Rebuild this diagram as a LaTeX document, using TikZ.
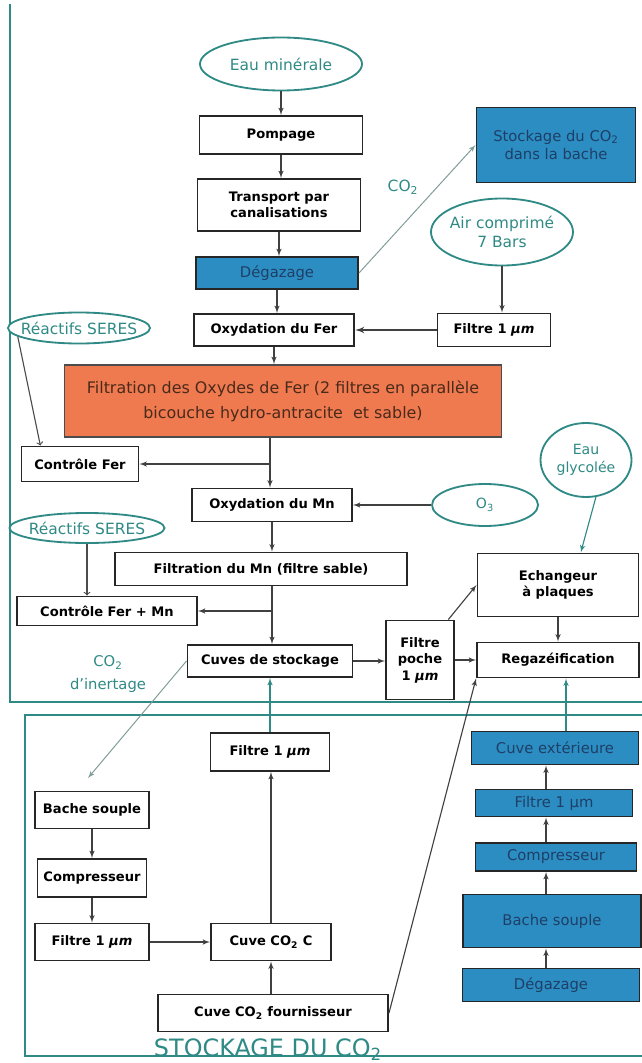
\documentclass[tikz,border=0pt]{standalone}
\usepackage{fontspec}
\setmainfont{DejaVu Sans}
\usetikzlibrary{arrows}
\usetikzlibrary{shapes.geometric}
\usetikzlibrary{calc}

\definecolor{sarcelle}{HTML}{2F8A85}
\definecolor{gristeal}{HTML}{7E9C98}
\definecolor{bleu}{HTML}{2C8DC3}
\definecolor{marine}{HTML}{1E3F66}
\definecolor{corail}{HTML}{EF7A50}
\definecolor{brun}{HTML}{4A2A1A}

\begin{document}
\begin{tikzpicture}[x=0.025cm,y=-0.025cm,>=latex',
  sz/.style 2 args={minimum width=#1*0.025cm,minimum height=#2*0.025cm},
  box/.style={draw=black!85,line width=1.4pt,fill=white,inner sep=1pt,align=center,font=\fontsize{9.3}{11.8}\selectfont\bfseries},
  bleubox/.style={box,fill=bleu,text=marine,font=\fontsize{10.5}{13}\selectfont},
  oval/.style={ellipse,draw=sarcelle,line width=1.3pt,fill=white,inner sep=0pt,align=center,text=sarcelle,font=\fontsize{11}{14}\selectfont},
  lbl/.style={text=sarcelle,align=center,font=\fontsize{10.5}{16}\selectfont},
  fl/.style={->,draw=black!75,line width=.8pt},
  tfl/.style={->,draw=sarcelle,line width=.8pt},
  ouvert/.style={-to,draw=black!70,line width=.8pt}]
\useasboundingbox (0,0) rectangle (641,1063);
\draw [sarcelle,line width=1.4pt] (10,4) -- (10,702) -- (645,702);
\draw [sarcelle,line width=1.4pt] (645,715) -- (25,715) -- (25,1056) -- (645,1056);

\draw node [oval,sz={162}{53}] (eau) at (281,64) {Eau minérale};
\draw node [box,sz={163}{38}] (pomp) at (281,135) {Pompage};
\draw node [box,sz={163}{52}] (transp) at (279,205) {Transport par\\canalisations};
\draw node [bleubox,sz={162}{32}] (degaz) at (277,273) {Dégazage};
\draw node [bleubox,sz={159}{75}] (stock) at (556,145) {Stockage du CO\textsubscript{2}\\dans la bache};
\draw node [lbl,font=\fontsize{11}{14}\selectfont] (co2) at (403,187) {CO\textsubscript{2}};
\draw node [oval,inner xsep=-2pt,sz={142}{67}] (air) at (502,232) {Air comprimé\\7 Bars};
\draw node [box,sz={113}{33}] (filt) at (494,330) {Filtre 1 \textit{µm}};
\draw node [box,sz={160}{32}] (oxfer) at (274,330) {Oxydation du Fer};
\draw node [oval,inner xsep=-9pt,sz={142}{31}] (reac1) at (79,328) {Réactifs SERES};
\draw node [box,fill=corail,draw=black!70,sz={437}{72},text=brun,font=\fontsize{11.3}{18}\selectfont] (oxydes) at (283,401)
  {Filtration des Oxydes de Fer (2 filtres en parallèle\\bicouche hydro-antracite \ et sable)};
\draw node [box,sz={117}{35}] (ctrlfer) at (80,464) {Contrôle Fer};
\draw node [box,sz={160}{33}] (oxmn) at (272,505) {Oxydation du Mn};
\draw node [oval,sz={106}{42},font=\fontsize{10}{12}\selectfont] (o3) at (485,505) {O\textsubscript{3}};
\draw node [oval,sz={91}{74},font=\fontsize{10}{13}\selectfont] (glyc) at (586,460) {Eau\\glycolée};
\draw node [oval,inner xsep=-9pt,sz={155}{30}] (reac2) at (87,528) {Réactifs SERES};
\draw node [box,sz={292}{33}] (filtmn) at (261,569) {Filtration du Mn (filtre sable)};
\draw node [box,sz={180}{29}] (ctrlfm) at (107,611) {Contrôle Fer + Mn};
\draw node [box,sz={161}{63}] (echang) at (558,585) {Echangeur\\à plaques};
\draw node [box,sz={162}{35}] (regaz) at (558,660) {Regazéification};
\draw node [box,sz={68}{79}] (poche) at (420,660) {Filtre\\poche\\1 \textit{µm}};
\draw node [box,sz={165}{32}] (cuves) at (270,661) {Cuves de stockage};
\draw node [lbl] (inert) at (108,674) {CO\textsubscript{2}\\d'inertage};

\draw node [box,sz={119}{38}] (filtmid) at (270,752) {Filtre 1 \textit{µm}};
\draw node [box,sz={114}{37}] (bache) at (92,810) {Bache souple};
\draw node [box,sz={109}{38}] (compr) at (92,878) {Compresseur};
\draw node [box,sz={114}{37}] (filtg) at (92,942) {Filtre 1 \textit{µm}};
\draw node [box,sz={120}{37}] (cuvec) at (271,942) {Cuve CO\textsubscript{2} C};
\draw node [box,sz={230}{37}] (fourn) at (273,1013) {Cuve CO\textsubscript{2} fournisseur};
\draw node [bleubox,sz={167}{33}] (cuvext) at (555,748) {Cuve extérieure};
\draw node [bleubox,sz={157}{27}] (filtb) at (554,803) {Filtre 1 µm};
\draw node [bleubox,sz={161}{28}] (comprb) at (556,857) {Compresseur};
\draw node [bleubox,sz={178}{53}] (bacheb) at (552,921) {Bache souple};
\draw node [bleubox,sz={177}{33}] (degazb) at (551,985) {Dégazage};
\draw node [text=sarcelle,anchor=base,font=\fontsize{17}{17}\selectfont] (titre) at (268,1056) {STOCKAGE DU CO\textsubscript{2}};

\coordinate (j1) at (270,464);
\coordinate (j2) at (272,611);
\coordinate (bout) at (88,778);
\coordinate (colb) at (546,0);
\coordinate (colr) at (566,0);

\draw [fl] (eau) -- (pomp);
\draw [fl] (pomp.south) -- (pomp.south |- transp.north);
\draw [fl] (transp.south) -- (transp.south |- degaz.north);
\draw [fl] (degaz.south) -- (degaz.south |- oxfer.north);
\draw [->,draw=gristeal,line width=.7pt] (degaz.east) -- (stock.west);
\draw [fl] (air.south) -- (air.south |- filt.north);
\draw [fl,line width=1.3pt] (filt) -- (oxfer);
\draw [fl] (oxfer.south) -- (oxfer.south |- oxydes.north);
\draw [ouvert] (reac1.188) -- (ctrlfer.155);
\draw [draw=black!75,line width=.8pt] (j1 |- oxydes.south) -- (j1);
\draw [fl] (j1) -- (j1 |- oxmn.north);
\draw [fl] (j1) -- (ctrlfer.east);
\draw [fl] (o3) -- (oxmn);
\draw [ouvert] (reac2.south) -- (reac2.south |- ctrlfm.north);
\draw [fl] (oxmn.south) -- (oxmn.south |- filtmn.north);
\draw [draw=black!75,line width=.8pt] (j2 |- filtmn.south) -- (j2);
\draw [fl] (j2) -- (j2 |- cuves.north);
\draw [fl] (j2) -- (ctrlfm.east);
\draw [fl] (cuves.east) -- (poche.west |- cuves.east);
\draw [fl] (poche.east) -- (regaz.west);
\draw [fl] (poche.55) -- (echang.west);
\draw [fl] (echang) -- (regaz);
\draw [tfl] (glyc.285) -- (echang.55);
\draw [->,draw=gristeal,line width=.7pt] (cuves.west) -- (bout);
\draw [tfl] (filtmid) -- (cuves);
\draw [tfl] (colr |- cuvext.north) -- (colr |- regaz.south);
\draw [fl] (fourn.east) -- (regaz.south west);
\draw [fl] (filtg) -- (cuvec);
\draw [fl] (cuvec.south |- fourn.north) -- (cuvec.south);
\draw [fl] (cuvec.north) -- (cuvec.north |- filtmid.south);
\draw [fl] (bache) -- (compr);
\draw [fl] (compr) -- (filtg);
\foreach \a/\b in {degazb/bacheb,bacheb/comprb,comprb/filtb,filtb/cuvext}
  \draw [fl] (colb |- \a.north) -- (colb |- \b.south);
\end{tikzpicture}
\end{document}
